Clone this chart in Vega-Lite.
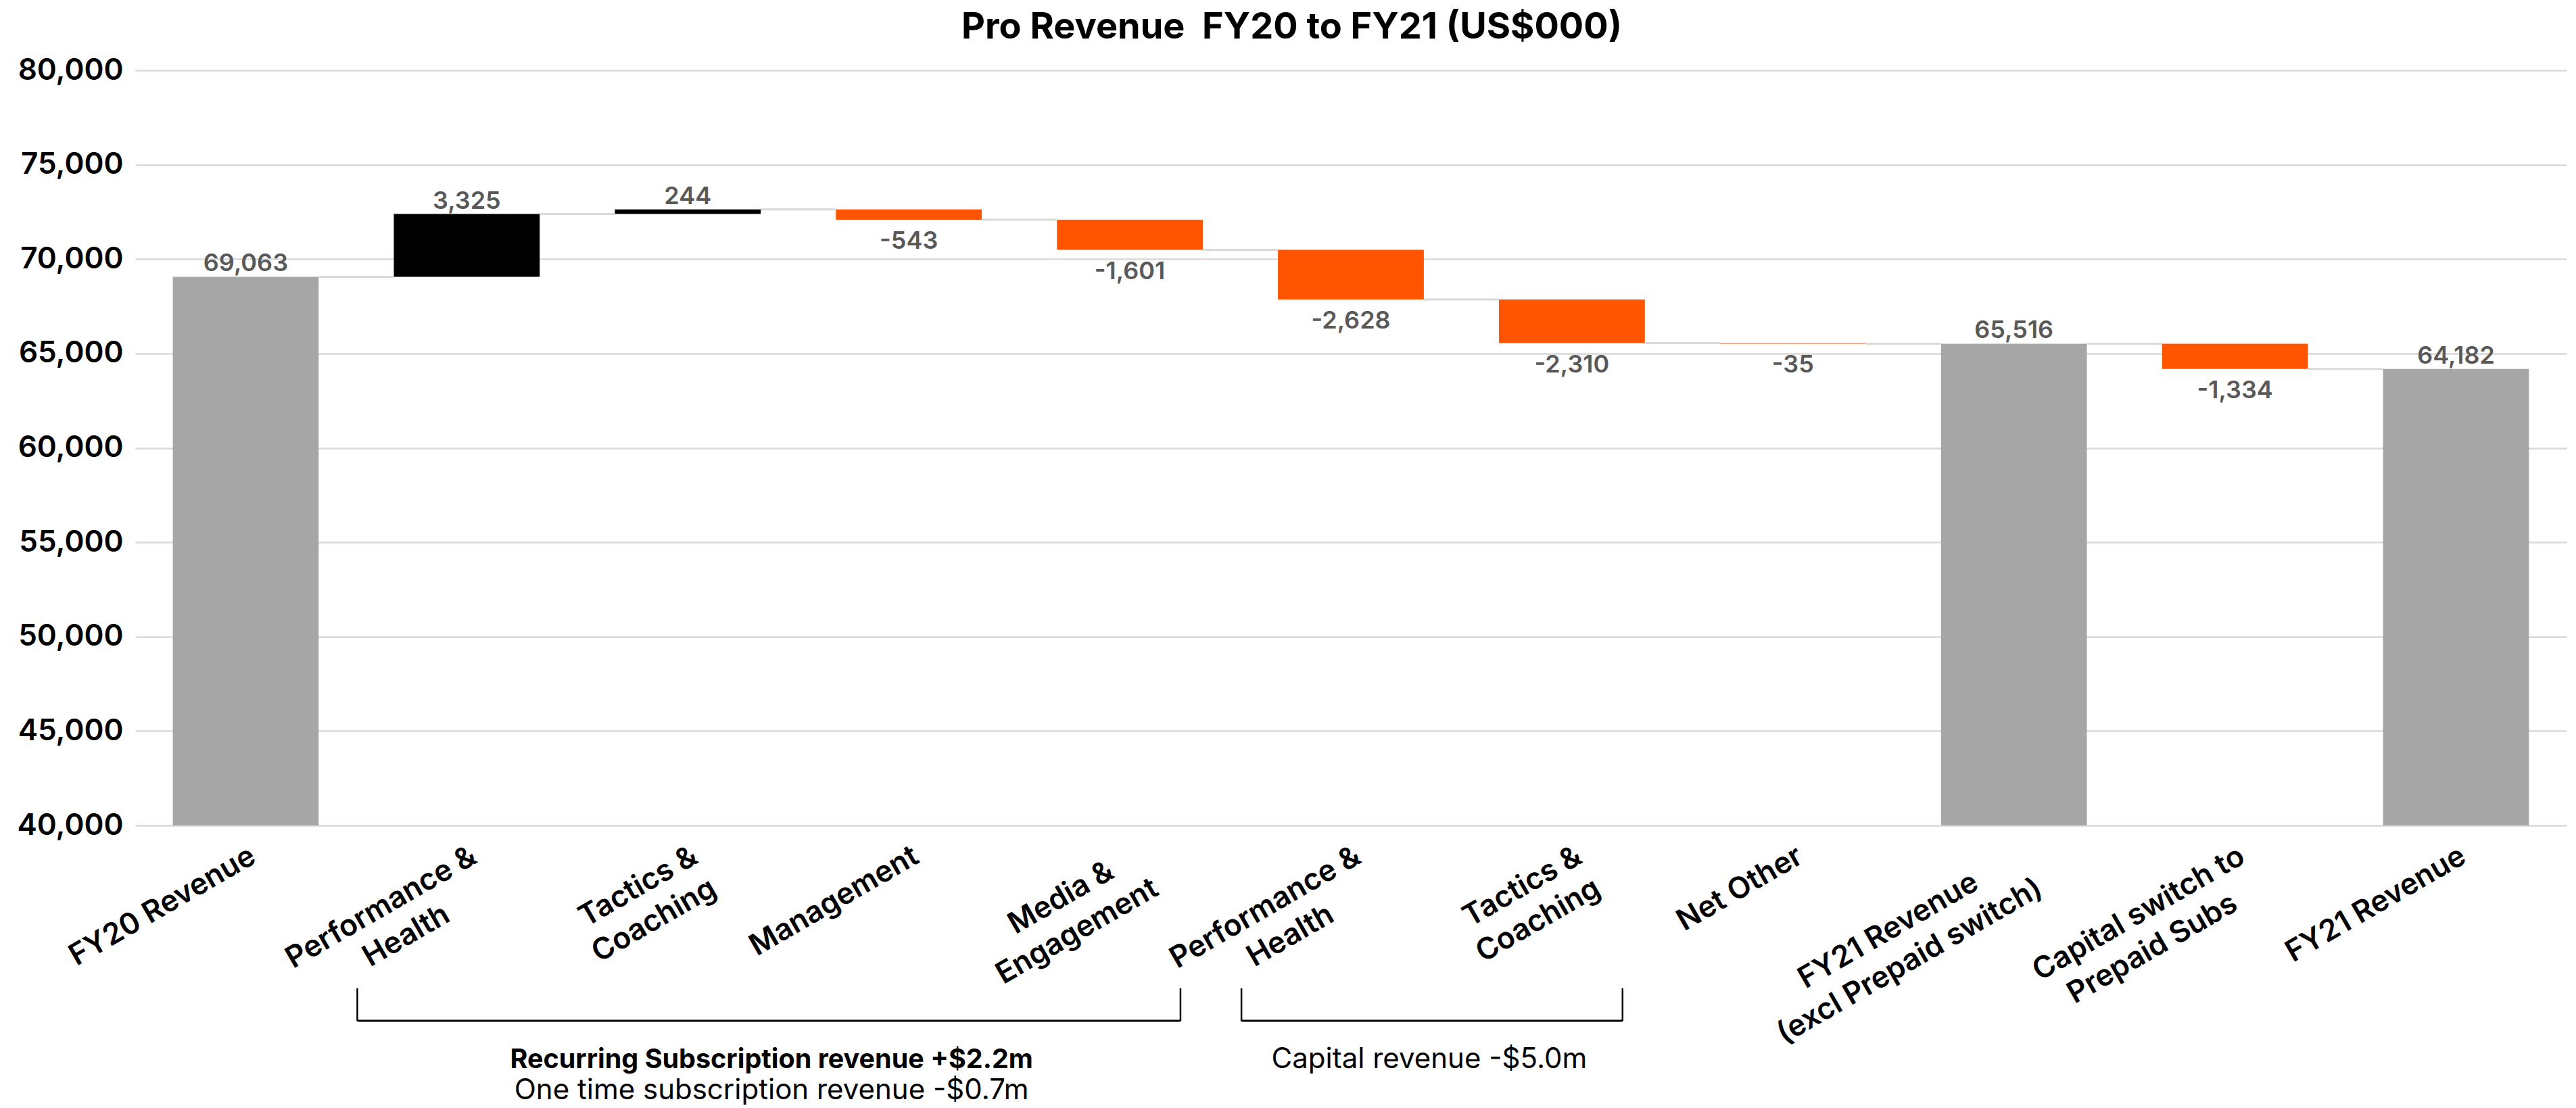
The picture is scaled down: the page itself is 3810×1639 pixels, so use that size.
{
  "$schema": "https://vega.github.io/schema/vega-lite/v6.json",
  "width": 3596,
  "height": 1117,
  "autosize": {"type": "none"},
  "padding": {"left": 200, "top": 104, "right": 14, "bottom": 418},
  "background": "white",
  "title": {
    "text": "Pro Revenue\u00a0 FY20 to FY21 (US$000)",
    "anchor": "middle",
    "frame": "bounds",
    "font": "Inter",
    "fontSize": 54,
    "fontWeight": 700,
    "color": "#000000",
    "baseline": "alphabetic",
    "offset": -29
  },
  "config": {
    "view": {"stroke": null},
    "font": "Inter",
    "axisX": {
      "domain": false,
      "ticks": false,
      "grid": false,
      "labelAngle": -30,
      "labelAlign": "right",
      "labelBaseline": "top",
      "labelPadding": 23,
      "labelFont": "Inter",
      "labelFontSize": 44,
      "labelFontWeight": 600,
      "labelColor": "#000000",
      "labelLineHeight": 55,
      "labelLimit": 2000,
      "labelOverlap": false
    },
    "axisY": {
      "domain": false,
      "ticks": false,
      "grid": true,
      "labelFont": "Inter",
      "labelFontSize": 44,
      "labelFontWeight": 600,
      "labelColor": "#000000",
      "labelPadding": 18,
      "gridColor": "#D9D9D9",
      "gridWidth": 2.5
    }
  },
  "datasets": {
    "wf": [
      {"cat": "01|FY20 Revenue", "kind": "total", "start": 0, "end": 69063, "amount": 69063, "next": "02|Performance &|Health\u00a0\u00a0\u00a0\u00a0\u00a0\u00a0\u00a0\u200b"},
      {"cat": "02|Performance &|Health\u00a0\u00a0\u00a0\u00a0\u00a0\u00a0\u00a0\u200b", "kind": "increase", "start": 69063, "end": 72388, "amount": 3325, "next": "03|Tactics &|Coaching"},
      {"cat": "03|Tactics &|Coaching", "kind": "increase", "start": 72388, "end": 72632, "amount": 244, "next": "04|Management"},
      {"cat": "04|Management", "kind": "decrease", "start": 72632, "end": 72089, "amount": -543, "next": "05|Media &\u00a0\u00a0\u00a0\u00a0\u200b|Engagement"},
      {"cat": "05|Media &\u00a0\u00a0\u00a0\u00a0\u200b|Engagement", "kind": "decrease", "start": 72089, "end": 70488, "amount": -1601, "next": "06|Performance &|Health\u00a0\u00a0\u00a0\u00a0\u00a0\u00a0\u00a0\u200b"},
      {"cat": "06|Performance &|Health\u00a0\u00a0\u00a0\u00a0\u00a0\u00a0\u00a0\u200b", "kind": "decrease", "start": 70488, "end": 67860, "amount": -2628, "next": "07|Tactics &|Coaching"},
      {"cat": "07|Tactics &|Coaching", "kind": "decrease", "start": 67860, "end": 65550, "amount": -2310, "next": "08|Net Other"},
      {"cat": "08|Net Other", "kind": "decrease", "start": 65550, "end": 65515, "amount": -35, "next": "09|FY21 Revenue\u00a0\u00a0\u00a0\u00a0\u00a0\u00a0\u00a0\u200b|(excl Prepaid switch)"},
      {"cat": "09|FY21 Revenue\u00a0\u00a0\u00a0\u00a0\u00a0\u00a0\u00a0\u200b|(excl Prepaid switch)", "kind": "total", "start": 0, "end": 65516, "amount": 65516, "next": "10|Capital switch to|Prepaid Subs\u00a0\u00a0\u00a0\u00a0\u200b"},
      {"cat": "10|Capital switch to|Prepaid Subs\u00a0\u00a0\u00a0\u00a0\u200b", "kind": "decrease", "start": 65516, "end": 64182, "amount": -1334, "next": "11|FY21 Revenue"},
      {"cat": "11|FY21 Revenue", "kind": "total", "start": 0, "end": 64182, "amount": 64182, "next": null}
    ],
    "brackets": [
      {"from": "02|Performance &|Health\u00a0\u00a0\u00a0\u00a0\u00a0\u00a0\u00a0\u200b", "to": "05|Media &\u00a0\u00a0\u00a0\u00a0\u200b|Engagement"},
      {"from": "06|Performance &|Health\u00a0\u00a0\u00a0\u00a0\u00a0\u00a0\u00a0\u200b", "to": "07|Tactics &|Coaching"}
    ],
    "notes": [
      {"id": "a", "note": "Recurring Subscription revenue +$2.2m", "at": "03|Tactics &|Coaching"},
      {"id": "b", "note": "One time subscription revenue -$0.7m", "at": "03|Tactics &|Coaching"},
      {"id": "c", "note": "Capital revenue -$5.0m", "at": "06|Performance &|Health\u00a0\u00a0\u00a0\u00a0\u00a0\u00a0\u00a0\u200b"}
    ]
  },
  "layer": [
    {
      "data": {"name": "wf"},
      "mark": {"type": "bar", "clip": true},
      "encoding": {
        "x": {
          "field": "cat",
          "type": "nominal",
          "sort": null,
          "title": null,
          "scale": {
            "domain": [
              "01|FY20 Revenue",
              "02|Performance &|Health\u00a0\u00a0\u00a0\u00a0\u00a0\u00a0\u00a0\u200b",
              "03|Tactics &|Coaching",
              "04|Management",
              "05|Media &\u00a0\u00a0\u00a0\u00a0\u200b|Engagement",
              "06|Performance &|Health\u00a0\u00a0\u00a0\u00a0\u00a0\u00a0\u00a0\u200b",
              "07|Tactics &|Coaching",
              "08|Net Other",
              "09|FY21 Revenue\u00a0\u00a0\u00a0\u00a0\u00a0\u00a0\u00a0\u200b|(excl Prepaid switch)",
              "10|Capital switch to|Prepaid Subs\u00a0\u00a0\u00a0\u00a0\u200b",
              "11|FY21 Revenue"
            ],
            "paddingInner": 0.34,
            "paddingOuter": 0.17
          },
          "axis": {
            "title": null,
            "labelExpr": "slice(split(datum.value, '|'), 1)"
          }
        },
        "y": {
          "field": "start",
          "type": "quantitative",
          "title": null,
          "scale": {"domain": [40000, 80000], "nice": false, "zero": false},
          "axis": {
            "title": null,
            "values": [40000, 45000, 50000, 55000, 60000, 65000, 70000, 75000, 80000],
            "labelExpr": "format(datum.value, ',')"
          }
        },
        "y2": {"field": "end"},
        "color": {
          "field": "kind",
          "type": "nominal",
          "scale": {"domain": ["total", "increase", "decrease"], "range": ["#A6A6A6", "#000000", "#FF5500"]},
          "legend": null
        }
      }
    },
    {
      "data": {"name": "wf"},
      "transform": [{"filter": "datum.next != null"}],
      "mark": {"type": "rule", "color": "#D9D9D9", "strokeWidth": 3},
      "encoding": {
        "x": {"field": "cat", "type": "nominal", "title": null, "bandPosition": 1},
        "x2": {"field": "next", "bandPosition": 0},
        "y": {"field": "end", "type": "quantitative", "title": null}
      }
    },
    {
      "data": {"name": "wf"},
      "transform": [
        {"filter": "datum.kind != 'decrease'"},
        {"calculate": "replace(format(datum.amount, ','), '\u2212', '-')", "as": "lbl"}
      ],
      "mark": {"type": "text", "baseline": "alphabetic", "dy": -8, "font": "Inter", "fontSize": 36, "fontWeight": 600, "color": "#595959"},
      "encoding": {
        "x": {"field": "cat", "type": "nominal", "title": null},
        "y": {"field": "end", "type": "quantitative", "title": null},
        "text": {"field": "lbl"}
      }
    },
    {
      "data": {"name": "wf"},
      "transform": [
        {"filter": "datum.kind == 'decrease'"},
        {"calculate": "replace(format(datum.amount, ','), '\u2212', '-')", "as": "lbl"}
      ],
      "mark": {"type": "text", "baseline": "top", "dy": 15, "font": "Inter", "fontSize": 36, "fontWeight": 600, "color": "#595959"},
      "encoding": {
        "x": {"field": "cat", "type": "nominal", "title": null},
        "y": {"field": "end", "type": "quantitative", "title": null},
        "text": {"field": "lbl"}
      }
    },
    {
      "data": {"name": "brackets"},
      "mark": {"type": "rule", "color": "#000000", "strokeWidth": 2.5, "xOffset": -54},
      "encoding": {
        "x": {"field": "from", "type": "nominal", "bandPosition": 0, "title": null},
        "y": {"datum": 31370, "type": "quantitative", "title": null},
        "y2": {"datum": 29651}
      }
    },
    {
      "data": {"name": "brackets"},
      "mark": {"type": "rule", "color": "#000000", "strokeWidth": 2.5, "xOffset": -33},
      "encoding": {
        "x": {"field": "to", "type": "nominal", "bandPosition": 1, "title": null},
        "y": {"datum": 31370, "type": "quantitative", "title": null},
        "y2": {"datum": 29651}
      }
    },
    {
      "data": {"name": "brackets"},
      "mark": {"type": "rule", "color": "#000000", "strokeWidth": 3, "xOffset": -54, "x2Offset": -33},
      "encoding": {
        "x": {"field": "from", "type": "nominal", "bandPosition": 0, "title": null},
        "x2": {"field": "to", "bandPosition": 1},
        "y": {"datum": 29651, "type": "quantitative", "title": null}
      }
    },
    {
      "data": {"name": "notes"},
      "transform": [{"filter": "datum.id == 'a'"}],
      "mark": {"type": "text", "align": "center", "baseline": "alphabetic", "dx": 16, "font": "Inter", "fontSize": 39.5, "fontWeight": 700, "color": "#000000"},
      "encoding": {
        "x": {"field": "at", "type": "nominal", "bandPosition": 1, "title": null},
        "y": {"datum": 27150, "type": "quantitative", "title": null},
        "text": {"field": "note"}
      }
    },
    {
      "data": {"name": "notes"},
      "transform": [{"filter": "datum.id == 'b'"}],
      "mark": {"type": "text", "align": "center", "baseline": "alphabetic", "dx": 16, "font": "Inter", "fontSize": 42, "fontWeight": 400, "color": "#000000"},
      "encoding": {
        "x": {"field": "at", "type": "nominal", "bandPosition": 1, "title": null},
        "y": {"datum": 25480, "type": "quantitative", "title": null},
        "text": {"field": "note"}
      }
    },
    {
      "data": {"name": "notes"},
      "transform": [{"filter": "datum.id == 'c'"}],
      "mark": {"type": "text", "align": "center", "baseline": "alphabetic", "dx": 8, "font": "Inter", "fontSize": 42, "fontWeight": 400, "color": "#000000"},
      "encoding": {
        "x": {"field": "at", "type": "nominal", "bandPosition": 1, "title": null},
        "y": {"datum": 27150, "type": "quantitative", "title": null},
        "text": {"field": "note"}
      }
    }
  ]
}
